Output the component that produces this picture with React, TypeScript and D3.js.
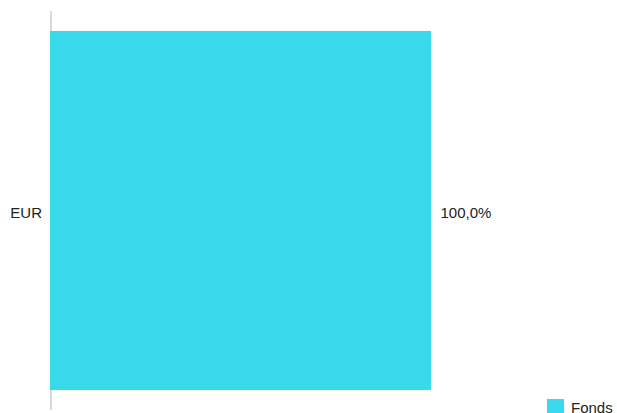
import React from "react"
import * as d3 from "d3"

const categories = ["EUR"]
const fondsValues = [100.0]
const seriesName = "Fonds"

const W = 617
const H = 413
const barColor = "#38d9eb"

export default function App() {
  const x = d3.scaleLinear().domain([0, 100]).range([50, 431])
  const y = d3.scaleBand<string>().domain(categories).range([11, 410]).paddingInner(0.1).paddingOuter(0.05)
  const fmt = (v: number) => d3.format(".1f")(v).replace(".", ",") + "%"

  return (
    <svg
      width={W}
      height={H}
      style={{ position: "absolute", left: 0, top: 0, fontFamily: "'Liberation Sans', Arial, sans-serif" }}
    >
      <line x1={51} x2={51} y1={y.range()[0]} y2={y.range()[1]} stroke="#cccccc" strokeWidth={1.5} />
      {categories.map((c, i) => {
        const cy = (y(c) || 0) + y.bandwidth() / 2
        return (
          <g key={c}>
            <rect x={x(0)} y={y(c)} width={x(fondsValues[i]) - x(0)} height={y.bandwidth()} fill={barColor} />
            <text x={42} y={cy} dy="0.5em" textAnchor="end" fontSize={15} fill="#222">
              {c}
            </text>
            <text x={x(fondsValues[i]) + 9.5} y={cy} dy="0.5em" fontSize={15} fill="#222">
              {fmt(fondsValues[i])}
            </text>
          </g>
        )
      })}
      <rect x={547} y={399} width={17} height={17} fill={barColor} />
      <text x={571} y={412.5} fontSize={15} fill="#222">{seriesName}</text>
    </svg>
  )
}
